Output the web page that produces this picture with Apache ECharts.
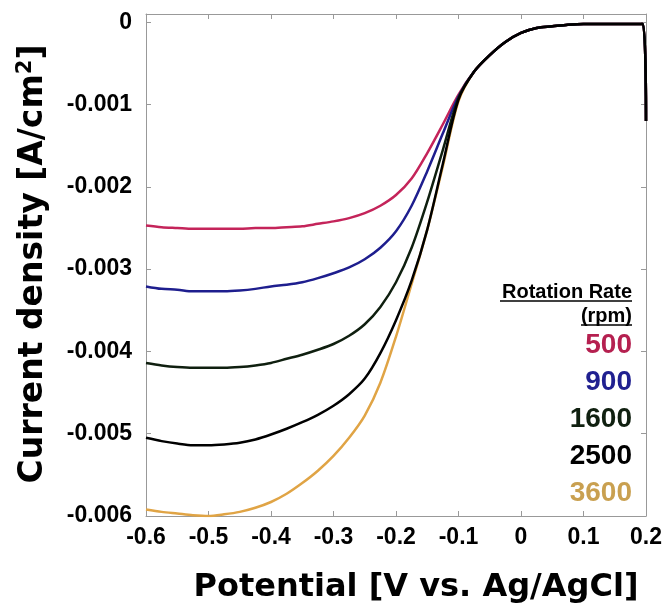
<!DOCTYPE html>
<html>
<head>
    <meta charset="utf-8">
    <title>Rotation rate</title>
    <script src="https://cdn.jsdelivr.net/npm/echarts@6/dist/echarts.min.js"></script>
    <style>
        html, body { margin: 0; padding: 0; background: #fff; }
        #main { width: 668px; height: 605px; }
    </style>
</head>
<body>
<div id="main"></div>
<script>
    // potential [V vs. Ag/AgCl]
    var potential = [-0.6, -0.575, -0.55, -0.525, -0.5, -0.475, -0.45, -0.425, -0.4, -0.375,
        -0.35, -0.325, -0.3, -0.275, -0.25, -0.225, -0.2, -0.175, -0.15, -0.125, -0.1,
        -0.075, -0.05, -0.025, 0, 0.025, 0.05, 0.075, 0.1, 0.125, 0.15, 0.175, 0.195, 0.2];

    // current density [A/cm2], part of each curve from -0.6 to -0.1
    var rpm500  = [-0.00247, -0.00249, -0.0025, -0.00251, -0.00251, -0.00251, -0.00251, -0.0025, -0.0025, -0.00249,
        -0.00248, -0.00245, -0.00242, -0.00238, -0.00232, -0.00223, -0.0021, -0.0019, -0.00159, -0.00124, -0.00088];
    var rpm900  = [-0.00321, -0.00324, -0.00325, -0.00327, -0.00327, -0.00327, -0.00326, -0.00324, -0.00321, -0.00319,
        -0.00316, -0.00311, -0.00305, -0.00298, -0.00288, -0.00274, -0.00254, -0.00223, -0.00181, -0.00135, -0.0009];
    var rpm1600 = [-0.00414, -0.00417, -0.00419, -0.0042, -0.0042, -0.0042, -0.00419, -0.00417, -0.00414, -0.00409,
        -0.00404, -0.00398, -0.00391, -0.00381, -0.00367, -0.00346, -0.00316, -0.00274, -0.00218, -0.00155, -0.00092];
    var rpm2500 = [-0.00505, -0.00509, -0.00512, -0.00514, -0.00514, -0.00513, -0.00511, -0.00507, -0.00501, -0.00494,
        -0.00486, -0.00477, -0.00466, -0.00452, -0.00433, -0.00402, -0.00362, -0.00314, -0.00252, -0.00172, -0.00094];
    var rpm3600 = [-0.00592, -0.00595, -0.00597, -0.00599, -0.006, -0.00598, -0.00595, -0.0059, -0.00583, -0.00573,
        -0.0056, -0.00545, -0.00527, -0.00505, -0.00478, -0.00438, -0.00382, -0.00318, -0.00252, -0.00175, -0.00096];
    // shared part of all curves (-0.075 .. 0.2)
    var common  = [-0.0006, -0.0004, -0.00024, -0.00013, -0.00007, -0.00005, -0.00003, -0.00002,
        -0.00002, -0.00002, -0.00002, -0.00002, -0.0012];

    var rates  = ['500', '900', '1600', '2500', '3600'];
    var colors = ['#c4245a', '#1e1e8e', '#0f1f0f', '#000000', '#e0a445'];
    var textColors = ['#b52050', '#202090', '#102010', '#000000', '#c9a050'];
    var values = [rpm500, rpm900, rpm1600, rpm2500, rpm3600];

    function pairs(lower) {
        var ys = lower.concat(common);
        return potential.map(function (x, i) { return [x, ys[i]]; });
    }

    var series = [];
    // orange first so that the darker lines lie on it where they meet
    var order = [4, 0, 1, 2, 3];
    order.forEach(function (k) {
        series.push({
            name: rates[k],
            type: 'line',
            data: pairs(values[k]),
            smooth: 0.3,
            showSymbol: false,
            lineStyle: { color: colors[k], width: 2.5 }
        });
    });

    var tickFont = { fontFamily: 'Liberation Sans, Arial, sans-serif', fontWeight: 'bold', fontSize: 23, color: '#000' };
    var frame = { show: true, onZero: false, lineStyle: { color: '#999', width: 1 } };
    var tick = { show: true, inside: true, length: 5, lineStyle: { color: '#999' } };

    var legendTexts = [
        { type: 'text', style: { text: 'Rotation Rate', x: 632, y: 292, align: 'right', verticalAlign: 'middle',
            font: 'bold 20px "Liberation Sans", Arial', fill: '#000' } },
        { type: 'line', shape: { x1: 500, y1: 301, x2: 632, y2: 301 }, style: { stroke: '#000', lineWidth: 1.5 } },
        { type: 'text', style: { text: '(rpm)', x: 632, y: 316, align: 'right', verticalAlign: 'middle',
            font: 'bold 20px "Liberation Sans", Arial', fill: '#000' } },
        { type: 'line', shape: { x1: 581, y1: 325, x2: 632, y2: 325 }, style: { stroke: '#000', lineWidth: 1.5 } }
    ];
    rates.forEach(function (r, i) {
        legendTexts.push({ type: 'text', style: { text: r, x: 632, y: 345 + i * 37, align: 'right', verticalAlign: 'middle',
            font: 'bold 28px "Liberation Sans", Arial', fill: textColors[i] } });
    });

    legendTexts.push({ type: 'text', style: { text: 'Potential [V vs. Ag/AgCl]', x: 416, y: 588, align: 'center', verticalAlign: 'middle',
        font: 'bold 32px "DejaVu Sans"', fill: '#000' } });
    legendTexts.push({ type: 'text', x: 33, y: 264, rotation: Math.PI / 2,
        style: { text: 'Current density [A/cm{sup|2}]', align: 'center', verticalAlign: 'middle',
            font: 'bold 33px "DejaVu Sans"', fill: '#000',
            rich: { sup: { font: 'bold 21px "DejaVu Sans"', verticalAlign: 'top', padding: [0, 0, 14, 0] } } } });

    var myChart = echarts.init(document.getElementById('main'));
    var option = {
        animation: false,
        backgroundColor: '#fff',
        grid: { left: 146, right: 22, top: 14, bottom: 89 },
        xAxis: [{
            type: 'value', min: -0.6, max: 0.2, interval: 0.1,
            axisLine: frame, axisTick: tick, splitLine: { show: false },
            axisLabel: Object.assign({ margin: 10 }, tickFont)
        }, {
            type: 'value', position: 'top', min: -0.6, max: 0.2, interval: 0.1,
            axisLine: frame, axisTick: tick, splitLine: { show: false }, axisLabel: { show: false }
        }],
        yAxis: [{
            type: 'value', min: -0.006, max: 0.0001, interval: 0.001,
            axisLine: frame, axisTick: tick, splitLine: { show: false },
            axisLabel: Object.assign({ margin: 14, showMaxLabel: false }, tickFont)
        }, {
            type: 'value', position: 'right', min: -0.006, max: 0.0001, interval: 0.001,
            axisLine: frame, axisTick: tick, splitLine: { show: false }, axisLabel: { show: false }
        }],
        graphic: legendTexts,
        series: series
    };
    myChart.setOption(option);
</script>
</body>
</html>
